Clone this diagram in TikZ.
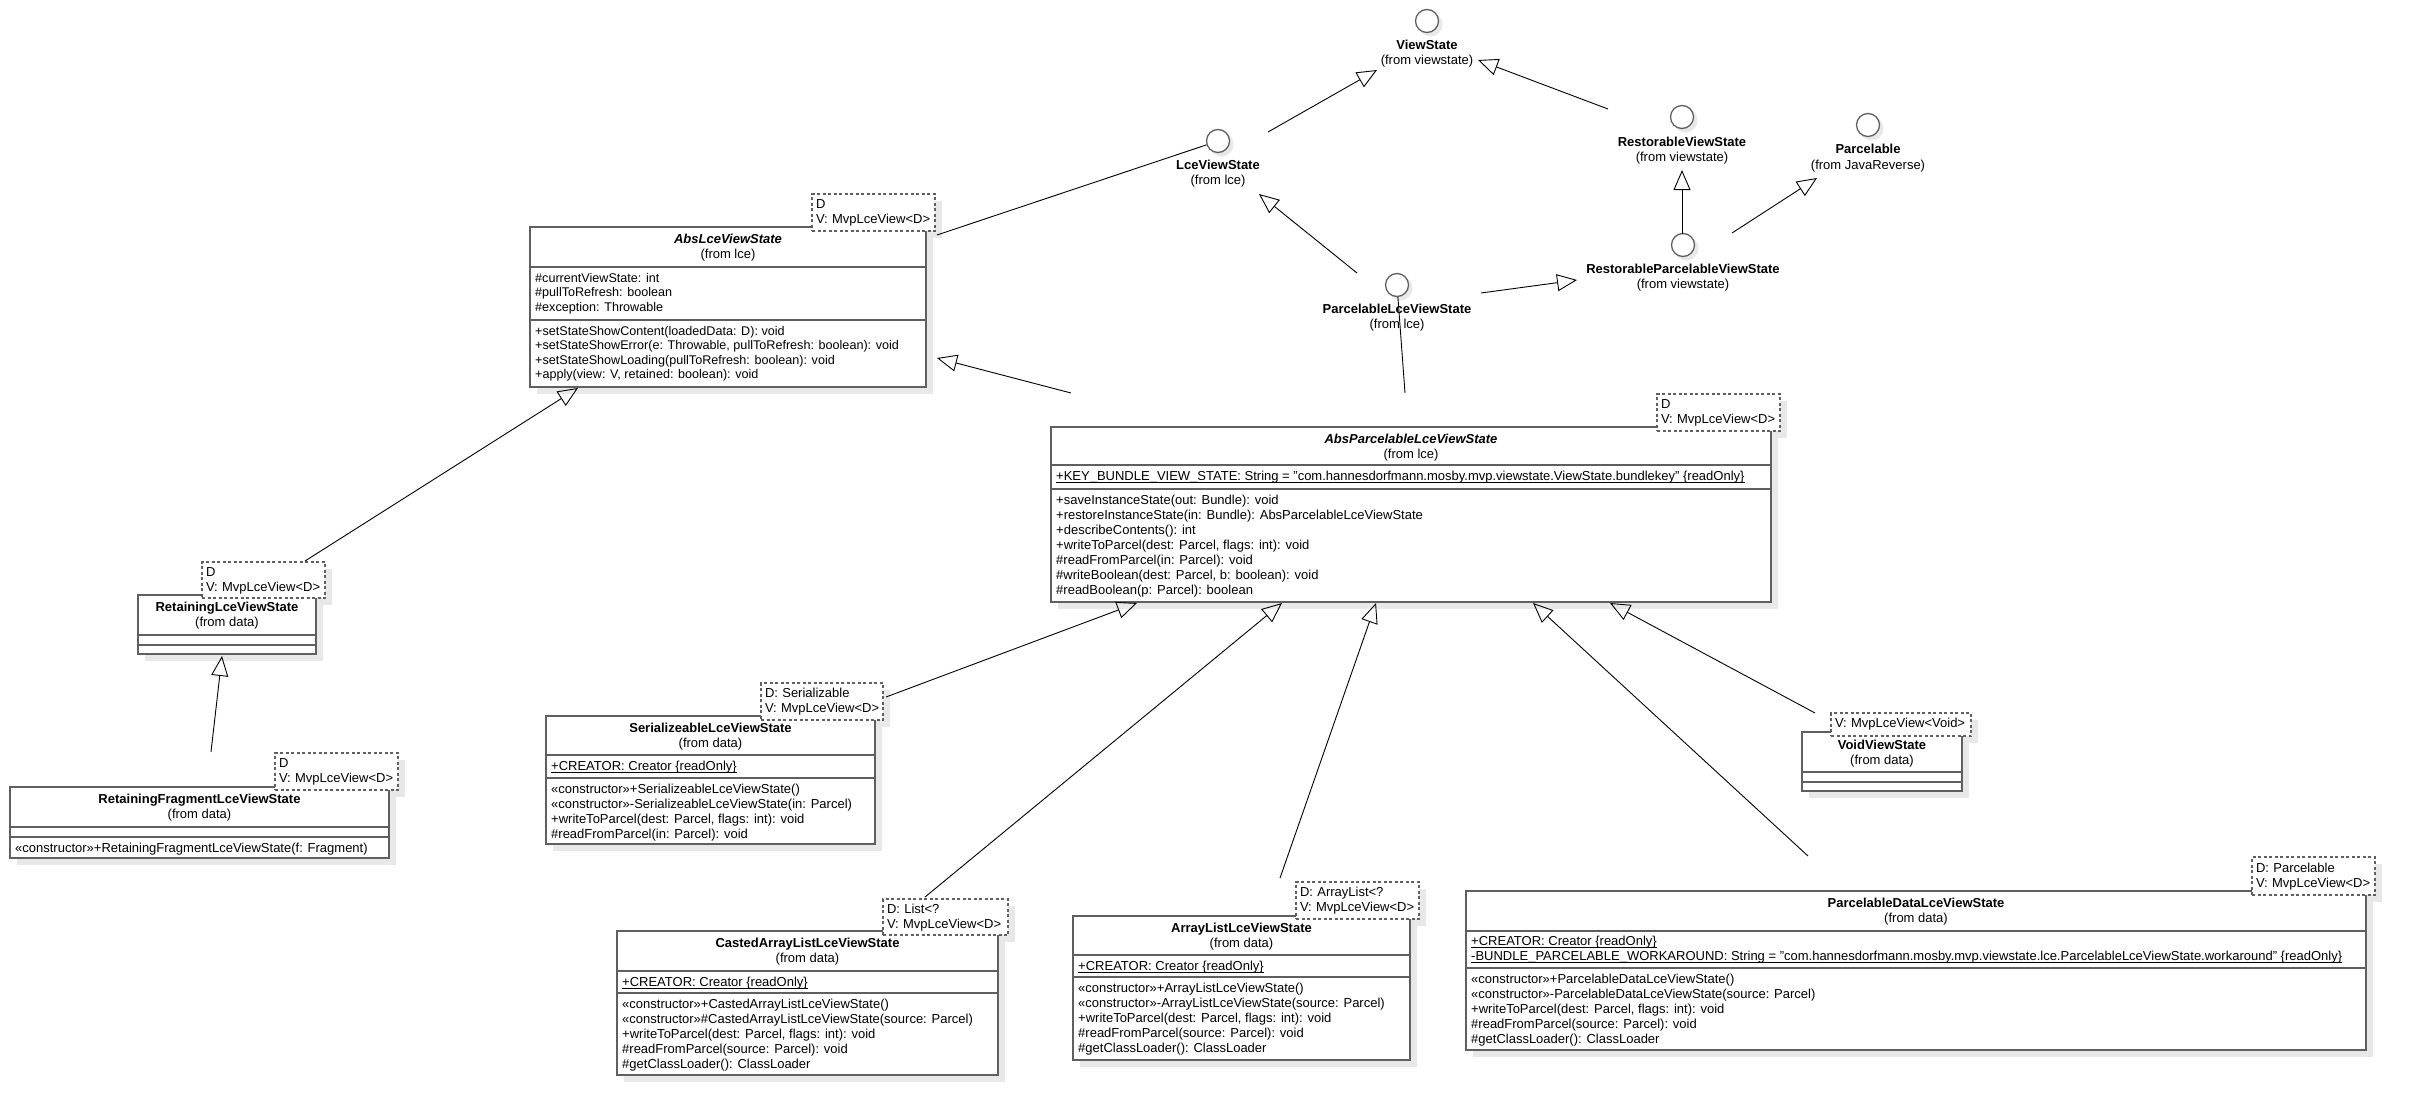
\documentclass[tikz,border=0pt]{standalone}
\usepackage{fontspec}
\setmainfont{Liberation Sans}
\usetikzlibrary{arrows.meta}
\definecolor{boxgray}{HTML}{5F5F5F}
\definecolor{shd}{HTML}{E8E8E8}
\pgfdeclarelayer{shadowlayer}
\pgfsetlayers{shadowlayer,main}
\newcommand\fs{\fontsize{13}{15}\selectfont}
\newcommand\fsA{\fontsize{12.6}{14.5}\selectfont}
\newcommand\uln[1]{\setbox0\hbox{#1}\rlap{\rule[-2.2pt]{\wd0}{0.9pt}}\box0}
\newcommand\tl[2]{\strut\mbox{#1}\\\mbox{#2}}
\begin{document}
\begin{tikzpicture}[x=1pt,y=-1pt,
  classbox/.style={draw=boxgray, line width=1.6pt, fill=white,
    inner sep=0pt, outer sep=0pt, anchor=north west},
  tplbox/.style={draw=boxgray, line width=1.4pt, dash pattern=on 3pt off 2.5pt, fill=white,
    inner xsep=4pt, inner ysep=3.5pt, outer sep=0pt, anchor=north west, align=left, font=\fs},
  sepl/.style={draw=boxgray, line width=1.6pt},
  iface/.style={circle, draw=boxgray, line width=1.3pt, fill=white, minimum size=23pt, inner sep=0pt},
  gen/.style={line width=0.9pt, -{Triangle[open, length=20pt, width=17pt, line width=0.9pt]}},
  plain/.style={line width=0.9pt},
  nm/.style={font=\fs\bfseries, anchor=base, inner sep=0pt},
  nmi/.style={font=\fs\bfseries\itshape, anchor=base, inner sep=0pt},
  fr/.style={font=\fs, anchor=base, inner sep=0pt},
  ct/.style={font=\fs, anchor=north west, align=left, inner sep=0pt},
  shadowfill/.style={fill=shd, draw=none}
]
\begin{pgfonlayer}{shadowlayer}
\fill[white] (0,0) rectangle (2416,1116);
\end{pgfonlayer}
\useasboundingbox (0,0) rectangle (2416,1116);

% ---------------- interfaces ----------------
\node[iface] (vs) at (1427,21) {};
\node[nm] (vsN) at (1427,49) {ViewState};
\node[fr] (vsF) at (1427,65) {(from viewstate)};

\node[iface] (lce) at (1218,141) {};
\node[nm] (lceN) at (1218,169) {LceViewState};
\node[fr] (lceF) at (1218,184) {(from lce)};

\node[iface] (rvs) at (1682,117) {};
\node[nm] (rvsN) at (1682,146) {RestorableViewState};
\node[fr] (rvsF) at (1682,161) {(from viewstate)};

\node[iface] (parc) at (1868,125) {};
\node[nm] (parcN) at (1868,153) {Parcelable};
\node[fr] (parcF) at (1868,169) {(from JavaReverse)};

\node[iface] (rpvs) at (1683,245) {};
\node[nm] (rpvsN) at (1683,273) {RestorableParcelableViewState};
\node[fr] (rpvsF) at (1683,288) {(from viewstate)};

\node[iface] (plvs) at (1397,285) {};
\node[nm] (plvsN) at (1397,313) {ParcelableLceViewState};
\node[fr] (plvsF) at (1397,328) {(from lce)};

% ---------------- AbsLceViewState ----------------
\node[classbox, minimum width=396pt, minimum height=160pt] (absLce) at (530,227) {};
\draw[sepl] (absLce.west |- 0,267) -- (absLce.east |- 0,267);
\draw[sepl] (absLce.west |- 0,320) -- (absLce.east |- 0,320);
\node[nmi] (absLceN) at (728,243) {AbsLceViewState};
\node[fr] (absLceF) at (728,258) {(from lce)};
\node[ct, font=\fsA] (absLceA) at (535,272) {\strut\#currentViewState: int\\\#pullToRefresh: boolean\\\#exception: Throwable};
\node[ct, font=\fsA] (absLceM) at (535,325) {\strut+setStateShowContent(loadedData: D): void\\+setStateShowError(e: Throwable, pullToRefresh: boolean): void\\+setStateShowLoading(pullToRefresh: boolean): void\\+apply(view: V, retained: boolean): void};
\node[tplbox, text width=115pt, minimum height=37pt] (absLceT) at (812,194) {\tl{D}{V: MvpLceView<D>}};

% ---------------- AbsParcelableLceViewState ----------------
\node[classbox, minimum width=720pt, minimum height=175pt] (absP) at (1051,427) {};
\draw[sepl] (absP.west |- 0,465) -- (absP.east |- 0,465);
\draw[sepl] (absP.west |- 0,489) -- (absP.east |- 0,489);
\node[nmi] (absPN) at (1411,443) {AbsParcelableLceViewState};
\node[fr] (absPF) at (1411,458) {(from lce)};
\node[ct] (absPA) at (1056,470) {\strut\uln{+KEY\_BUNDLE\_VIEW\_STATE: String = "com.hannesdorfmann.mosby.mvp.viewstate.ViewState.bundlekey" \{readOnly\}}};
\node[ct] (absPM) at (1056,494) {\strut+saveInstanceState(out: Bundle): void\\+restoreInstanceState(in: Bundle): AbsParcelableLceViewState\\+describeContents(): int\\+writeToParcel(dest: Parcel, flags: int): void\\\#readFromParcel(in: Parcel): void\\\#writeBoolean(dest: Parcel, b: boolean): void\\\#readBoolean(p: Parcel): boolean};
\node[tplbox, text width=115pt, minimum height=37pt] (absPT) at (1657,394) {\tl{D}{V: MvpLceView<D>}};

% ---------------- RetainingLceViewState ----------------
\node[classbox, minimum width=178pt, minimum height=59pt] (retLce) at (138,595) {};
\draw[sepl] (retLce.west |- 0,635) -- (retLce.east |- 0,635);
\draw[sepl] (retLce.west |- 0,645) -- (retLce.east |- 0,645);
\node[nm] (retLceN) at (227,611) {RetainingLceViewState};
\node[fr] (retLceF) at (227,626) {(from data)};
\node[tplbox, text width=115pt, minimum height=36pt] (retLceT) at (202,562) {\tl{D}{V: MvpLceView<D>}};

% ---------------- RetainingFragmentLceViewState ----------------
\node[classbox, minimum width=379pt, minimum height=71pt] (retFrag) at (10,787) {};
\draw[sepl] (retFrag.west |- 0,827) -- (retFrag.east |- 0,827);
\draw[sepl] (retFrag.west |- 0,837) -- (retFrag.east |- 0,837);
\node[nm] (retFragN) at (199.5,803) {RetainingFragmentLceViewState};
\node[fr] (retFragF) at (199.5,818) {(from data)};
\node[ct] (retFragM) at (15,842) {\strut«constructor»+RetainingFragmentLceViewState(f: Fragment)};
\node[tplbox, text width=115pt, minimum height=37pt] (retFragT) at (275,753) {\tl{D}{V: MvpLceView<D>}};

% ---------------- SerializeableLceViewState ----------------
\node[classbox, minimum width=329pt, minimum height=128pt] (ser) at (546,716) {};
\draw[sepl] (ser.west |- 0,755) -- (ser.east |- 0,755);
\draw[sepl] (ser.west |- 0,778) -- (ser.east |- 0,778);
\node[nm] (serN) at (710.5,732) {SerializeableLceViewState};
\node[fr] (serF) at (710.5,747) {(from data)};
\node[ct] (serA) at (551,760) {\strut\uln{+CREATOR: Creator \{readOnly\}}};
\node[ct] (serM) at (551,783) {\strut«constructor»+SerializeableLceViewState()\\«constructor»-SerializeableLceViewState(in: Parcel)\\+writeToParcel(dest: Parcel, flags: int): void\\\#readFromParcel(in: Parcel): void};
\node[tplbox, text width=114pt, minimum height=37pt] (serT) at (761,683) {\tl{D: Serializable}{V: MvpLceView<D>}};

% ---------------- CastedArrayListLceViewState ----------------
\node[classbox, minimum width=381pt, minimum height=144pt] (cast) at (617,931) {};
\draw[sepl] (cast.west |- 0,971) -- (cast.east |- 0,971);
\draw[sepl] (cast.west |- 0,993) -- (cast.east |- 0,993);
\node[nm] (castN) at (807.5,947) {CastedArrayListLceViewState};
\node[fr] (castF) at (807.5,962) {(from data)};
\node[ct] (castA) at (622,976) {\strut\uln{+CREATOR: Creator \{readOnly\}}};
\node[ct] (castM) at (622,998) {\strut«constructor»+CastedArrayListLceViewState()\\«constructor»\#CastedArrayListLceViewState(source: Parcel)\\+writeToParcel(dest: Parcel, flags: int): void\\\#readFromParcel(source: Parcel): void\\\#getClassLoader(): ClassLoader};
\node[tplbox, text width=117pt, minimum height=36pt] (castT) at (883,899) {\tl{D: List<?}{V: MvpLceView<D>}};

% ---------------- ArrayListLceViewState ----------------
\node[classbox, minimum width=337pt, minimum height=144pt] (arr) at (1073,916) {};
\draw[sepl] (arr.west |- 0,955) -- (arr.east |- 0,955);
\draw[sepl] (arr.west |- 0,977) -- (arr.east |- 0,977);
\node[nm] (arrN) at (1241.5,932) {ArrayListLceViewState};
\node[fr] (arrF) at (1241.5,947) {(from data)};
\node[ct] (arrA) at (1078,960) {\strut\uln{+CREATOR: Creator \{readOnly\}}};
\node[ct] (arrM) at (1078,982) {\strut«constructor»+ArrayListLceViewState()\\«constructor»-ArrayListLceViewState(source: Parcel)\\+writeToParcel(dest: Parcel, flags: int): void\\\#readFromParcel(source: Parcel): void\\\#getClassLoader(): ClassLoader};
\node[tplbox, text width=115pt, minimum height=37pt] (arrT) at (1296,882) {\tl{D: ArrayList<?}{V: MvpLceView<D>}};

% ---------------- ParcelableDataLceViewState ----------------
\node[classbox, minimum width=900pt, minimum height=159pt] (pdata) at (1466,891) {};
\draw[sepl] (pdata.west |- 0,931) -- (pdata.east |- 0,931);
\draw[sepl] (pdata.west |- 0,968) -- (pdata.east |- 0,968);
\node[nm] (pdataN) at (1916,907) {ParcelableDataLceViewState};
\node[fr] (pdataF) at (1916,922) {(from data)};
\node[ct] (pdataA) at (1471,935) {\strut\uln{+CREATOR: Creator \{readOnly\}}\\\uln{-BUNDLE\_PARCELABLE\_WORKAROUND: String = "com.hannesdorfmann.mosby.mvp.viewstate.lce.ParcelableLceViewState.workaround" \{readOnly\}}};
\node[ct] (pdataM) at (1471,973) {\strut«constructor»+ParcelableDataLceViewState()\\«constructor»-ParcelableDataLceViewState(source: Parcel)\\+writeToParcel(dest: Parcel, flags: int): void\\\#readFromParcel(source: Parcel): void\\\#getClassLoader(): ClassLoader};
\node[tplbox, text width=115pt, minimum height=38pt] (pdataT) at (2252,857) {\tl{D: Parcelable}{V: MvpLceView<D>}};

% ---------------- VoidViewState ----------------
\node[classbox, minimum width=160pt, minimum height=59pt] (void) at (1802,732) {};
\draw[sepl] (void.west |- 0,772) -- (void.east |- 0,772);
\draw[sepl] (void.west |- 0,782) -- (void.east |- 0,782);
\node[nm] (voidN) at (1882,749) {VoidViewState};
\node[fr] (voidF) at (1882,764) {(from data)};
\node[tplbox, text width=132pt, minimum height=23pt, inner ysep=4pt] (voidT) at (1831,713) {\strut\mbox{V: MvpLceView<Void>}};

% ---------------- shadows (behind everything) ----------------
\begin{pgfonlayer}{shadowlayer}
\foreach \n in {absLce,absLceT,absP,absPT,retLce,retLceT,retFrag,retFragT,ser,serT,cast,castT,arr,arrT,pdata,pdataT,void,voidT}{
  \fill[shadowfill] ([shift={(7,7)}]\n.north west) rectangle ([shift={(7,7)}]\n.south east);
}
\foreach \n in {vs,lce,rvs,parc,rpvs,plvs}{
  \fill[shadowfill] ([shift={(3.5,3.5)}]\n.center) circle (12pt);
}
\end{pgfonlayer}

% ---------------- connector end points ----------------
\coordinate (c1s) at (1268,132); \coordinate (c1t) at (1377,70);
\coordinate (c2s) at (1608,109); \coordinate (c2t) at (1478,60);
\coordinate (c3s) at (1682,234); \coordinate (c3t) at (1682,170);
\coordinate (c4s) at (1732,233); \coordinate (c4t) at (1817,178);
\coordinate (c5s) at (1357,273); \coordinate (c5t) at (1259,194);
\coordinate (c6s) at (1481,293); \coordinate (c6t) at (1577,280);
\coordinate (c7s) at (1405,393);
\coordinate (c8s) at (937,235);
\coordinate (c9s) at (1071,393); \coordinate (c9t) at (937,358);
\coordinate (c10s) at (305,561); \coordinate (c10t) at (578,388);
\coordinate (c11s) at (211,752); \coordinate (c11t) at (222,656);
\coordinate (c12s) at (886,697); \coordinate (c12t) at (1137,603);
\coordinate (c13s) at (925,897); \coordinate (c13t) at (1282,603);
\coordinate (c14s) at (1280,878); \coordinate (c14t) at (1376,603);
\coordinate (c15s) at (1808,856); \coordinate (c15t) at (1533,603);
\coordinate (c16s) at (1815,713); \coordinate (c16t) at (1610,603);

% ---------------- connectors ----------------
\draw[gen] (c1s) -- (c1t);
\draw[gen] (c2s) -- (c2t);
\draw[gen] (c3s) -- (c3t);
\draw[gen] (c4s) -- (c4t);
\draw[gen] (c5s) -- (c5t);
\draw[gen] (c6s) -- (c6t);
\draw[plain] (c7s) -- (plvs);
\draw[plain] (c8s) -- (lce);
\draw[gen] (c9s) -- (c9t);
\draw[gen] (c10s) -- (c10t);
\draw[gen] (c11s) -- (c11t);
\draw[gen] (c12s) -- (c12t);
\draw[gen] (c13s) -- (c13t);
\draw[gen] (c14s) -- (c14t);
\draw[gen] (c15s) -- (c15t);
\draw[gen] (c16s) -- (c16t);
\end{tikzpicture}
\end{document}
